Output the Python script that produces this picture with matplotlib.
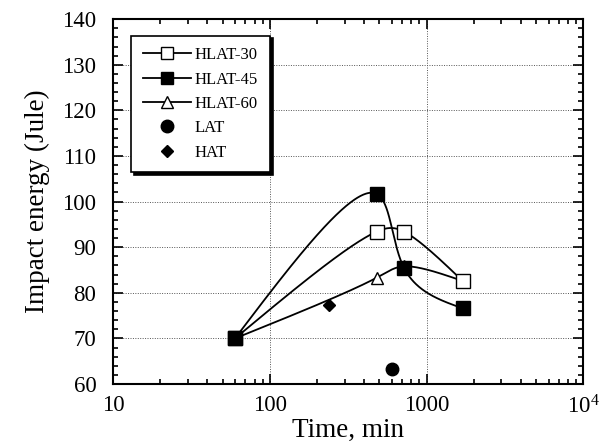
import numpy as np
import matplotlib
matplotlib.use("Agg")
import matplotlib.pyplot as plt
from matplotlib.ticker import FixedLocator, FixedFormatter, MultipleLocator, LogLocator, NullFormatter

plt.rcParams['font.family'] = ['Liberation Serif', 'DejaVu Serif']
plt.rcParams['mathtext.fontset'] = 'stix'

# ---- data ----
time_hlat30 = [60, 480, 720, 1700]
energy_hlat30 = [70, 93.4, 93.4, 82.6]
time_hlat45 = [60, 480, 720, 1700]
energy_hlat45 = [70, 101.7, 85.4, 76.6]
time_hlat60 = [60, 480, 720, 1700]
energy_hlat60 = [70, 83.3, 85.8, 82.6]
time_lat = [600]
energy_lat = [63.3]
time_hat = [240]
energy_hat = [77.3]

x_ticks = [10, 100, 1000, 10000]
x_tick_labels = ['10', '100', '1000', r'$\mathregular{10^4}$']
y_ticks = [60, 70, 80, 90, 100, 110, 120, 130, 140]


def natural_spline(t, y, tt):
    t = np.asarray(t, float); y = np.asarray(y, float)
    n = len(t)
    h = np.diff(t)
    A = np.zeros((n, n)); b = np.zeros(n)
    A[0, 0] = 1; A[-1, -1] = 1
    for i in range(1, n - 1):
        A[i, i - 1] = h[i - 1]
        A[i, i] = 2 * (h[i - 1] + h[i])
        A[i, i + 1] = h[i]
        b[i] = 6 * ((y[i + 1] - y[i]) / h[i] - (y[i] - y[i - 1]) / h[i - 1])
    M = np.linalg.solve(A, b)
    out = np.empty_like(tt)
    for k, v in enumerate(tt):
        i = min(max(np.searchsorted(t, v) - 1, 0), n - 2)
        a = t[i + 1] - v; c = v - t[i]
        out[k] = (M[i] * a ** 3 + M[i + 1] * c ** 3) / (6 * h[i]) + \
                 (y[i] / h[i] - M[i] * h[i] / 6) * a + (y[i + 1] / h[i] - M[i + 1] * h[i] / 6) * c
    return out


def smooth_curve(xs, ys):
    # centripetal parametric spline in screen-like space (log x)
    X = np.log10(xs) * 157.0
    Y = np.asarray(ys, float) * 4.56
    d = np.sqrt(np.sqrt(np.diff(X) ** 2 + np.diff(Y) ** 2))
    t = np.concatenate([[0], np.cumsum(d)])
    tt = np.linspace(0, t[-1], 400)
    return 10 ** (natural_spline(t, X, tt) / 157.0), natural_spline(t, Y, tt) / 4.56


fig = plt.figure(figsize=(6.14, 4.45), dpi=100)
ax = fig.add_axes([0.184, 0.137, 0.766, 0.82])
ax.set_xscale('log')
ax.set_xlim(10, 10000)
ax.set_ylim(60, 140)

lw = 1.3
for xs, ys in [(time_hlat30, energy_hlat30), (time_hlat45, energy_hlat45), (time_hlat60, energy_hlat60)]:
    cx, cy = smooth_curve(xs, ys)
    ax.plot(cx, cy, color='black', lw=lw, zorder=3)

ax.plot(time_hlat60, energy_hlat60, ls='none', marker='^', ms=9, mfc='white', mec='black', mew=1.0, zorder=4)
ax.plot(time_hlat30, energy_hlat30, ls='none', marker='s', ms=9.5, mfc='white', mec='black', mew=1.0, zorder=5)
ax.plot(time_hlat45, energy_hlat45, ls='none', marker='s', ms=9.5, mfc='black', mec='black', zorder=6)
ax.plot(time_lat, energy_lat, ls='none', marker='o', ms=9, mfc='black', mec='black', zorder=6)
ax.plot(time_hat, energy_hat, ls='none', marker='D', ms=6.5, mfc='black', mec='black', zorder=6)

# legend handles
h1, = ax.plot([], [], color='black', lw=lw, marker='s', ms=9, mfc='white', mec='black', label='HLAT-30')
h2, = ax.plot([], [], color='black', lw=lw, marker='s', ms=9, mfc='black', mec='black', label='HLAT-45')
h3, = ax.plot([], [], color='black', lw=lw, marker='^', ms=9, mfc='white', mec='black', label='HLAT-60')
h4, = ax.plot([], [], ls='none', marker='o', ms=9, mfc='black', mec='black', label='LAT')
h5, = ax.plot([], [], ls='none', marker='D', ms=6.5, mfc='black', mec='black', label='HAT')
leg = ax.legend(handles=[h1, h2, h3, h4, h5], loc='upper left', bbox_to_anchor=(0.038, 0.955),
                frameon=True, fancybox=False, shadow={'color': 'black', 'alpha': 1},
                framealpha=1, edgecolor='black',
                fontsize=12, handlelength=2.9, handletextpad=0.25, labelspacing=0.5,
                borderpad=0.7, borderaxespad=0)
leg.get_frame().set_linewidth(1.2)
leg.set_zorder(10)

# ticks
ax.xaxis.set_major_locator(FixedLocator(x_ticks))
ax.xaxis.set_major_formatter(FixedFormatter(x_tick_labels))
ax.xaxis.set_minor_locator(LogLocator(base=10, subs=np.arange(2, 10)))
ax.xaxis.set_minor_formatter(NullFormatter())
ax.yaxis.set_major_locator(FixedLocator(y_ticks))
ax.yaxis.set_minor_locator(MultipleLocator(2))
ax.tick_params(which='both', direction='in', top=True, right=True, width=1.2)
ax.tick_params(which='major', length=7)
ax.tick_params(which='minor', length=3.5)
ax.tick_params(axis='y', which='major', labelsize=16.5, pad=12)
ax.tick_params(axis='x', which='major', labelsize=16.5, pad=8)
for s in ax.spines.values():
    s.set_linewidth(1.5)

ax.grid(True, which='major', ls=(0, (1, 1.5)), lw=0.7, color='#555555')
ax.set_axisbelow(True)

ax.set_xlabel('Time, min', fontsize=19.5, labelpad=0)
ax.set_ylabel('Impact energy (Jule)', fontsize=19.5, labelpad=9)

fig.savefig('out.png', dpi=100)
